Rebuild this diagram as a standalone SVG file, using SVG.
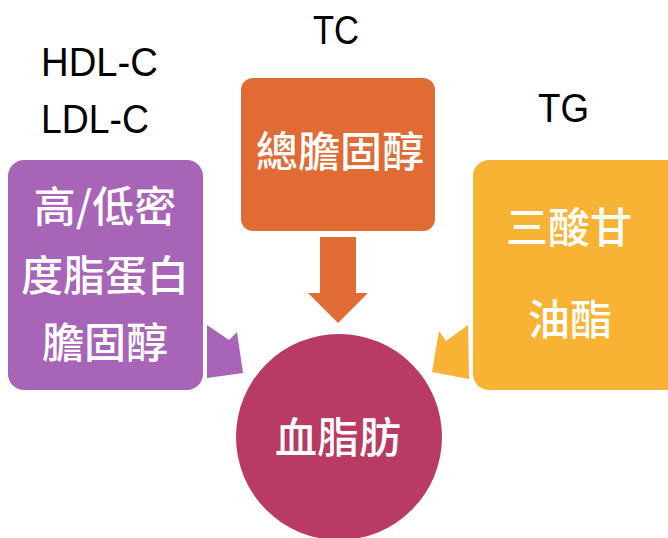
<svg xmlns="http://www.w3.org/2000/svg" width="668" height="538" viewBox="0 0 668 538">
<style>
.lbl{font-family:"Liberation Sans",Arial,sans-serif;font-size:41px;fill:#000}
.cjk{font-family:"Noto Sans CJK TC","Noto Sans CJK SC",sans-serif;font-size:42px;font-weight:500;fill:#fff;text-anchor:middle}
</style>
<rect width="668" height="538" fill="#fff"/>
<g id="connectors">
<polygon points="207,325 229,340 237,332 243,373 207,378" fill="#A865B8"/>
<polygon points="439,331 446,341 468,325 469,379 432,372" fill="#F8B334"/>
<polygon points="320,237 356,237 356,293 368,293 338,323 308,293 320,293" fill="#E06B35"/>
</g>
<g id="hdl">
<rect x="8" y="160" width="195" height="230" rx="16" fill="#A865B8"/>
<text class="cjk" x="105" y="222">高/低密</text>
<text class="cjk" x="105" y="291">度脂蛋白</text>
<text class="cjk" x="105" y="358">膽固醇</text>
</g>
<g id="tc">
<rect x="241" y="78" width="194" height="153" rx="12" fill="#E06B35"/>
<text class="cjk" x="340" y="167">總膽固醇</text>
</g>
<g id="tg">
<rect x="473" y="160" width="210" height="230" rx="16" fill="#F8B334"/>
<text class="cjk" x="569" y="243">三酸甘</text>
<text class="cjk" x="570" y="335">油酯</text>
</g>
<g id="lipid">
<circle cx="339" cy="437" r="103" fill="#B93A63"/>
<text class="cjk" x="338" y="453">血脂肪</text>
</g>
<g id="labels">
<text class="lbl" x="41" y="76" textLength="117" lengthAdjust="spacingAndGlyphs">HDL-C</text>
<text class="lbl" x="41" y="133" textLength="108" lengthAdjust="spacingAndGlyphs">LDL-C</text>
<text class="lbl" x="313" y="44" textLength="46" lengthAdjust="spacingAndGlyphs">TC</text>
<text class="lbl" x="538" y="122" textLength="51" lengthAdjust="spacingAndGlyphs">TG</text>
</g>
</svg>
